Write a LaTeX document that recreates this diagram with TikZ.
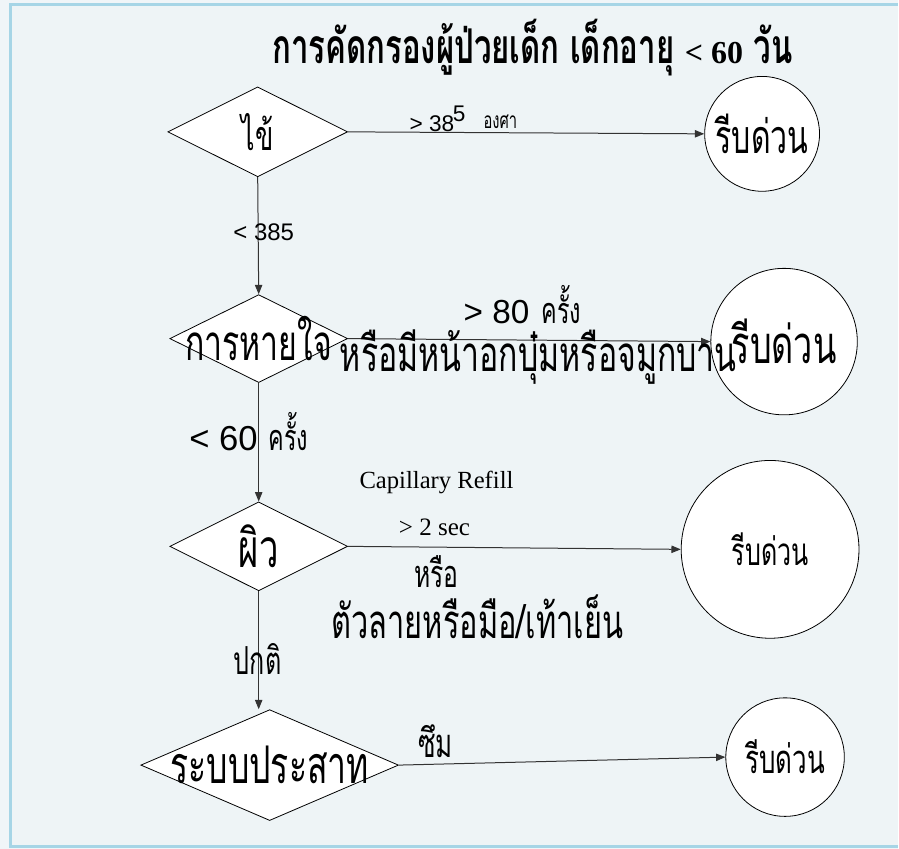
\documentclass[tikz,border=0pt]{standalone}
\usepackage{fontspec}
\setmainfont{Liberation Serif}
\setsansfont{Liberation Sans}
\newfontfamily\thaifont[Script=Thai,FakeStretch=0.65]{Loma}
\usetikzlibrary{arrows.meta,positioning,shapes.geometric}
\definecolor{pagebg}{HTML}{F0F5F8}
\definecolor{framebg}{HTML}{EEF4F6}
\definecolor{frameline}{HTML}{A6D5E6}
\definecolor{lineink}{HTML}{333333}
\newcommand{\thsz}[1]{\thaifont\fontsize{#1}{#1}\selectfont}
\newcommand{\lsz}[1]{\sffamily\fontsize{#1}{#1}\selectfont}

\begin{document}
\begin{tikzpicture}[
  x=0.75pt,y=-0.75pt,
  decision/.style={diamond,draw=black,fill=white,inner sep=0pt,line width=0.6pt},
  urgent/.style={circle,draw=black,fill=white,inner sep=0pt,line width=0.6pt},
  arrow/.style={-{Triangle[length=7pt,width=5.5pt]},draw=lineink,line width=0.75pt},
  tag/.style={inner sep=0pt,anchor=center}
]
  % page and frame
  \fill[pagebg] (0,0) rectangle (899,850);
  \fill[framebg] (11,5) rectangle (899,847);
  \draw[frameline,line width=1.6pt] (899,4.5) -- (10.5,4.5) -- (10.5,847.5) -- (899,847.5);
  \useasboundingbox (0,0) rectangle (899,850);

  \node[tag,font=\thsz{36}\bfseries] (title) at (533,48)
    {การคัดกรองผู้ป่วยเด็ก เด็กอายุ {\rmfamily\fontsize{24}{24}\selectfont\bfseries < 60} วัน};

  % decisions
  \node[decision,minimum width=135pt,minimum height=67.5pt,
    label={[font=\thsz{31}]center:ไข้}] (fever) at (258,132) {};
  \node[decision,minimum width=133.5pt,minimum height=66pt,
    label={[font=\thsz{37}]center:การหายใจ}] (breath) at (259,339) {};
  \node[decision,minimum width=133.5pt,minimum height=66.75pt,
    label={[font=\thsz{40}]center:ผิว}] (skin) at (259,547) {};
  \node[decision,minimum width=193.5pt,minimum height=83.25pt,
    label={[font=\thsz{39}]center:ระบบประสาท}] (neuro) at (270,766) {};

  % urgent outcomes
  \node[urgent,minimum size=86.25pt,font=\thsz{35}] (urgA) at (763,134) {รีบด่วน};
  \node[urgent,minimum size=110pt,font=\thsz{39.5}] (urgB) at (785,342) {รีบด่วน};
  \node[urgent,minimum size=133.5pt,font=\thsz{29}] (urgC) at (771,550) {รีบด่วน};
  \node[urgent,minimum size=89pt,font=\thsz{30}] (urgD) at (786,758) {รีบด่วน};

  % connectors
  \draw[arrow] (fever.east) -- (urgA.west);
  \draw[arrow] (breath.east) -- (urgB.west);
  \draw[arrow] (skin.east) -- (urgC.west);
  \draw[arrow] (neuro.east) -- (urgD.west);
  \draw[arrow] (fever.south) -- (breath.north);
  \draw[arrow] (breath.south) -- (skin.north);
  \draw[arrow] (skin.south) -- (skin.south |- neuro.north);

  % edge texts
  \node[tag,font=\lsz{17}] (feverhi) at (438,119) {> 38\kern-1pt\raisebox{7pt}{5}};
  \node[tag,font=\thsz{17}] (feverunit) at (501,122) {องศา};
  \node[tag,font=\lsz{18}] (feverlo) at (264,233) {< 385};
  \node[tag] (breathhi) at (523,305)
    {{\lsz{25}> 80}\hspace{9pt}{\thsz{27}ครั้ง}};
  \node[tag,font=\thsz{37}] (breathsign) at (539,357) {หรือมีหน้าอกบุ๋มหรือจมูกบาน};
  \node[tag] (breathlo) at (249,432)
    {{\lsz{26}< 60}\hspace{8pt}{\thsz{27}ครั้ง}};
  \node[tag,font=\rmfamily\fontsize{18.5}{18.5}\selectfont] (caprefill) at (437,483) {Capillary Refill};
  \node[tag,font=\rmfamily\fontsize{18.8}{18.8}\selectfont] (capsec) at (435,528) {> 2 sec};
  \node[tag,font=\thsz{28.5}] (skinor) at (437,572) {หรือ};
  \node[tag,font=\thsz{35.5}] (skinsign) at (478,617) {ตัวลายหรือมือ/เท้าเย็น};
  \node[tag,font=\thsz{29}] (skinok) at (258,660) {ปกติ};
  \node[tag,font=\thsz{30}] (neurosign) at (436,742) {ซึม};
\end{tikzpicture}
\end{document}
